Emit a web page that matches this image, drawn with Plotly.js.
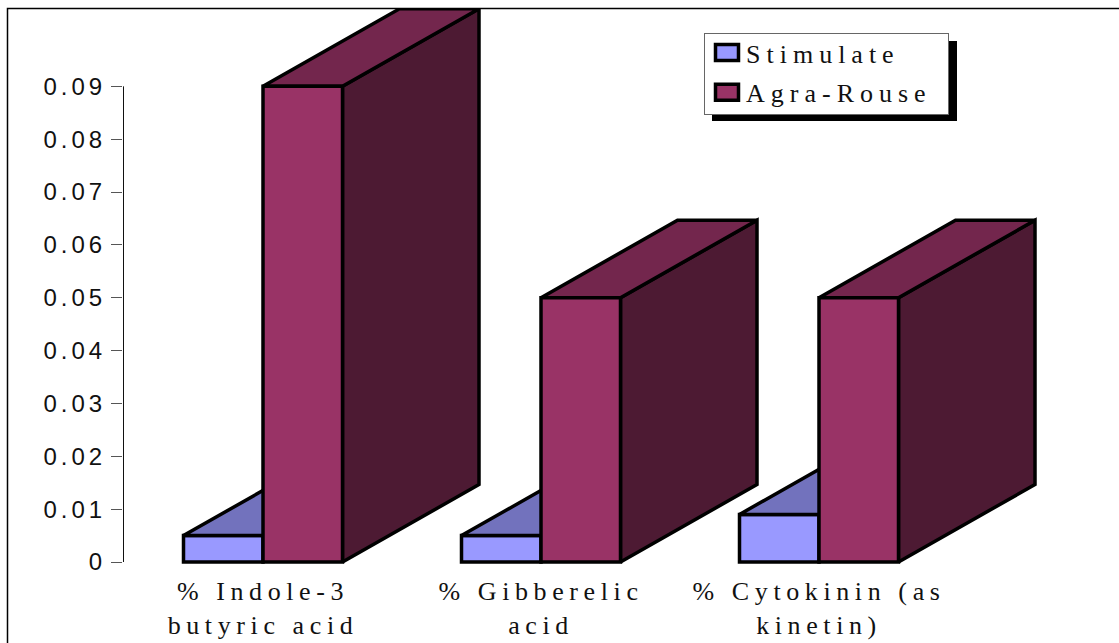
<!DOCTYPE html>
<html>
<head>
<meta charset="utf-8">
<script src="https://cdn.plot.ly/plotly-3.0.1.min.js"></script>
<style>
html,body{margin:0;padding:0;background:#fff;}
#chart{width:1119px;height:643px;}
.xtick text{letter-spacing:5.6px;}
.ytick text{letter-spacing:4px;}
.legendtext{letter-spacing:6px;}
.legend .legendpoints path{d:path("M13,8H-10V-8H13Z");}
.legend rect.bg{height:81px;width:244px;}
.legend .scrollbox{transform:translate(0,-5px);}
</style>
</head>
<body>
<div id="chart"></div>
<script>
var categories = ['% Indole-3<br>butyric acid', '% Gibberelic<br>acid', '% Cytokinin (as<br>kinetin)'];
var stimulate = [0.005, 0.005, 0.009];
var agraRouse = [0.09, 0.05, 0.05];
var yTicks = [0, 0.01, 0.02, 0.03, 0.04, 0.05, 0.06, 0.07, 0.08, 0.09];
var yTickText = ['0', '0.01', '0.02', '0.03', '0.04', '0.05', '0.06', '0.07', '0.08', '0.09'];

var W = 1119, H = 643, L = 123, T = 9, B = 570;
var pxX = 278, pxY = 5285, x0Px = 263, y0Px = 562;
var xRange = [(L - x0Px) / pxX, (W - x0Px) / pxX];
var yRange = [(y0Px - B) / pxY, (y0Px - T) / pxY];
var barW = 79.5 / pxX, depthX = 136.5 / pxX, depthY = 77.5 / pxY;
var xPos = categories.map(function (_, i) { return i; });
var OUT = {color: '#000', width: 3.5};

function topFaces(vals, off) {
  var xs = [], ys = [];
  vals.forEach(function (v, i) {
    var a = i + off, b = a + barW;
    xs.push(a, b, b + depthX, a + depthX, a, null);
    ys.push(v, v, v + depthY, v + depthY, v, null);
  });
  return {x: xs, y: ys};
}
function sideFaces(vals, off) {
  var xs = [], ys = [];
  vals.forEach(function (v, i) {
    var b = i + off + barW;
    xs.push(b, b + depthX, b + depthX, b, b, null);
    ys.push(0, depthY, v + depthY, v, 0, null);
  });
  return {x: xs, y: ys};
}
function poly(face, color, z) {
  return {type: 'scatter', mode: 'lines', x: face.x, y: face.y, fill: 'toself', fillcolor: color,
    line: OUT, showlegend: false, hoverinfo: 'skip', zorder: z};
}
var axisX = xRange[0] + 0.5 / pxX;
var traces = [
  {type: 'bar', name: 'Stimulate', x: xPos, y: stimulate, width: barW, offset: -barW,
    marker: {color: '#9999FF', line: OUT}, zorder: 0, legendgroup: 'a', hoverinfo: 'skip'},
  poly(topFaces(stimulate, -barW), '#7272BD', 1),
  poly(sideFaces(agraRouse, 0), '#4D1A33', 2),
  poly(topFaces(agraRouse, 0), '#73264D', 2),
  {type: 'bar', name: 'Agra-Rouse', x: xPos, y: agraRouse, width: barW, offset: 0,
    marker: {color: '#993366', line: OUT}, zorder: 3, legendgroup: 'b', hoverinfo: 'skip'},
  {type: 'scatter', mode: 'lines', x: [axisX, axisX], y: [0, yTicks[yTicks.length - 1]],
    line: {color: '#111', width: 1}, showlegend: false, hoverinfo: 'skip', cliponaxis: false, zorder: 4}
];
function px(p) { return (p - L) / (W - L); }
function py(p) { return (B - p) / (B - T); }
var layout = {
  width: W, height: H,
  margin: {l: L, r: 0, t: T, b: H - B, pad: 0},
  paper_bgcolor: '#fff', plot_bgcolor: 'rgba(0,0,0,0)',
  barmode: 'overlay',
  showlegend: true,
  legend: {x: px(704), y: py(33), xanchor: 'left', yanchor: 'top', bgcolor: '#fff',
    bordercolor: '#666', borderwidth: 1, itemwidth: 31, tracegroupgap: 3, traceorder: 'grouped',
    itemclick: false, itemdoubleclick: false,
    font: {family: '"Liberation Serif", serif', size: 26, color: '#111'}},
  xaxis: {range: xRange, tickmode: 'array', tickvals: xPos, ticktext: categories, showgrid: false,
    zeroline: false, showline: false, ticks: '', ticklabelstandoff: 3,
    tickfont: {family: '"Liberation Serif", serif', size: 26, color: '#111'}},
  yaxis: {range: yRange, tickmode: 'array', tickvals: yTicks, ticktext: yTickText, showgrid: false,
    zeroline: false, showline: false, ticks: 'outside', ticklen: 11, tickwidth: 1, tickcolor: '#555',
    tickfont: {family: '"Liberation Sans", sans-serif', size: 24, color: '#111'}},
  shapes: [
    {type: 'rect', xref: 'paper', yref: 'paper', layer: 'below', x0: px(712), x1: px(957), y0: py(41), y1: py(121),
      fillcolor: '#000', line: {width: 0}},
    {type: 'rect', xref: 'paper', yref: 'paper', layer: 'above', x0: px(7.5), x1: px(1130), y0: py(8.5), y1: py(660),
      fillcolor: 'rgba(0,0,0,0)', line: {color: '#000', width: 1.5}}
  ]
};
Plotly.newPlot('chart', traces, layout, {displayModeBar: false});
</script>
</body>
</html>
